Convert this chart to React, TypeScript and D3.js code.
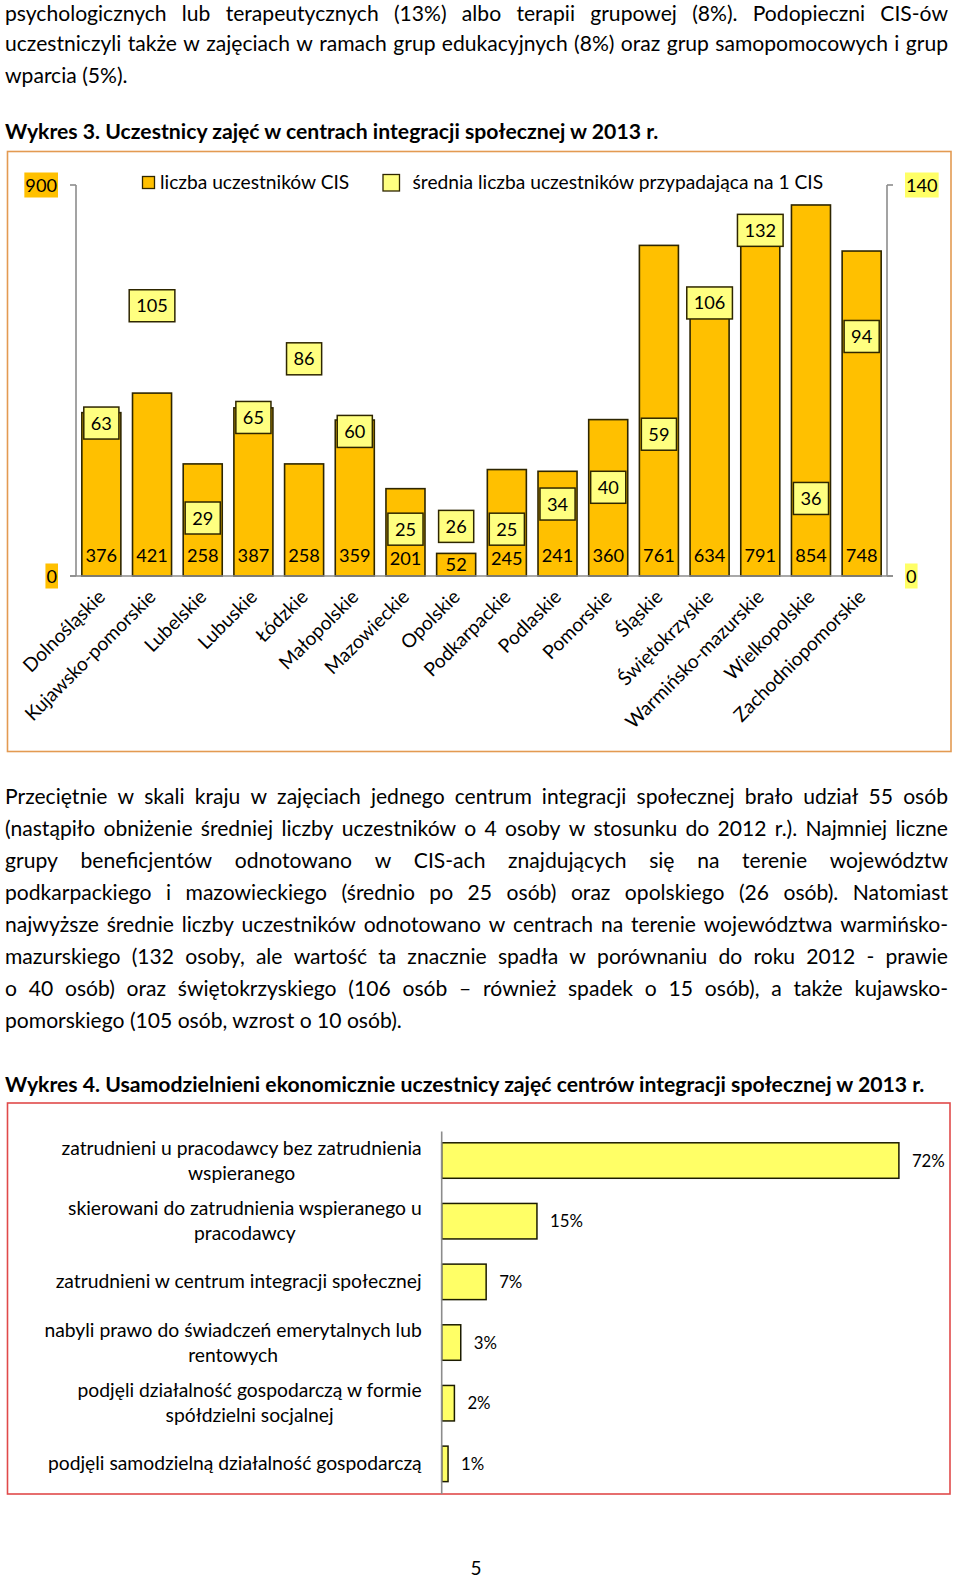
import React, { useEffect, useRef } from 'react';
import * as d3 from 'd3';

// ---------- DATA ----------
const regions = [
  'Dolnośląskie', 'Kujawsko-pomorskie', 'Lubelskie', 'Lubuskie', 'Łódzkie', 'Małopolskie',
  'Mazowieckie', 'Opolskie', 'Podkarpackie', 'Podlaskie', 'Pomorskie', 'Śląskie',
  'Świętokrzyskie', 'Warmińsko-mazurskie', 'Wielkopolskie', 'Zachodniopomorskie',
];
const participants = [376, 421, 258, 387, 258, 359, 201, 52, 245, 241, 360, 761, 634, 791, 854, 748];
const averagePerCis = [63, 105, 29, 65, 86, 60, 25, 26, 25, 34, 40, 59, 106, 132, 36, 94];
const leftAxisTicks = [0, 900];
const rightAxisTicks = [0, 140];
const legendLabels = ['liczba uczestników CIS', 'średnia liczba uczestników przypadająca na 1 CIS'];

const outcomeLabels = [
  ['zatrudnieni u pracodawcy bez zatrudnienia', 'wspieranego'],
  ['skierowani do zatrudnienia wspieranego u', 'pracodawcy'],
  ['zatrudnieni w centrum integracji społecznej'],
  ['nabyli prawo do świadczeń emerytalnych lub', 'rentowych'],
  ['podjęli działalność gospodarczą w formie', 'spółdzielni socjalnej'],
  ['podjęli samodzielną działalność gospodarczą'],
];
const outcomeShares = [72, 15, 7, 3, 2, 1];

const para1 = [
  'psychologicznych lub terapeutycznych (13%) albo terapii grupowej (8%). Podopieczni CIS-ów',
  'uczestniczyli także w zajęciach w ramach grup edukacyjnych (8%) oraz grup samopomocowych i grup',
  'wparcia (5%).',
];
const title3 = 'Wykres 3. Uczestnicy zajęć w centrach integracji społecznej w 2013 r.';
const para2 = [
  'Przeciętnie w skali kraju w zajęciach jednego centrum integracji społecznej brało udział 55 osób',
  '(nastąpiło obniżenie średniej liczby uczestników o 4 osoby w stosunku do 2012 r.). Najmniej liczne',
  'grupy beneficjentów odnotowano w CIS-ach znajdujących się na terenie województw',
  'podkarpackiego i mazowieckiego (średnio po 25 osób) oraz opolskiego (26 osób). Natomiast',
  'najwyższe średnie liczby uczestników odnotowano w centrach na terenie województwa warmińsko-',
  'mazurskiego (132 osoby, ale wartość ta znacznie spadła w porównaniu do roku 2012 - prawie',
  'o 40 osób) oraz świętokrzyskiego (106 osób – również spadek o 15 osób), a także kujawsko-',
  'pomorskiego (105 osób, wzrost o 10 osób).',
];
const title4 = 'Wykres 4. Usamodzielnieni ekonomicznie uczestnicy zajęć centrów integracji społecznej w 2013 r.';
const pageNumber = '5';

// ---------- STYLE ----------
const FONT = "Lato, 'Open Sans', 'DejaVu Sans', sans-serif";
const BODY = 21.1;
const TITLE = 21.2;
const CH3 = 19.2;
const CH3NUM = 18.2;
const CH4 = 19.3;
const CH4NUM = 16.8;
const ORANGE = '#FFC000';
const PALE = '#FFFF80';
const YELLOW = '#FFFF66';
const AXIS = '#8c8c8c';
const DARK = '#2e2600';

type Sel = d3.Selection<any, unknown, null, undefined>;

function measure(svg: Sel, text: string, size: number, weight = 'normal') {
  const t = svg.append('text').attr('font-family', FONT).attr('font-size', size).attr('font-weight', weight).text(text);
  const w = (t.node() as SVGTextElement).getComputedTextLength();
  t.remove();
  return w;
}

function textLine(g: Sel, svg: Sel, text: string, x0: number, x1: number, y: number, justify: boolean, size: number, weight = 'normal') {
  if (!justify) {
    g.append('text').attr('x', x0).attr('y', y).attr('font-family', FONT).attr('font-size', size)
      .attr('font-weight', weight).attr('fill', '#000').text(text);
    return;
  }
  const words = text.split(' ');
  const widths = words.map((w) => measure(svg, w, size, weight));
  const total = d3.sum(widths);
  const gap = (x1 - x0 - total) / (words.length - 1);
  let x = x0;
  words.forEach((w, i) => {
    g.append('text').attr('x', x).attr('y', y).attr('font-family', FONT).attr('font-size', size)
      .attr('font-weight', weight).attr('fill', '#000').text(w);
    x += widths[i] + gap;
  });
}

function draw(svg: Sel) {
  const txt = svg.append('g');
  const L = 5, R = 948;
  para1.forEach((line, i) => textLine(txt, svg, line, L, R, i === 0 ? 21 : 18.5 + i * 32, i < para1.length - 1, BODY));
  textLine(txt, svg, title3, L, R, 139, false, TITLE, 'bold');
  para2.forEach((line, i) => textLine(txt, svg, line, L, R, 803.5 + i * 32.1, i < para2.length - 1, BODY));
  textLine(txt, svg, title4, L, R, 1091.5, false, TITLE, 'bold');
  txt.append('text').attr('x', 476).attr('y', 1575).attr('text-anchor', 'middle').attr('font-family', FONT)
    .attr('font-size', 19).text(pageNumber);

  // ---------- CHART 3 ----------
  const c3 = svg.append('g');
  c3.append('rect').attr('x', 7.5).attr('y', 151.5).attr('width', 943.5).attr('height', 600)
    .attr('fill', '#fff').attr('stroke', '#E39A52').attr('stroke-width', 1.6);

  const x = d3.scaleBand<string>().domain(regions).range([76, 887]).paddingInner(0.23).paddingOuter(0.115);
  const yL = d3.scaleLinear().domain([0, 900]).range([576, 185]);
  const yR = d3.scaleLinear().domain([0, 140]).range([576, 185]);
  const bw = x.bandwidth();

  // legend
  c3.append('rect').attr('x', 142.5).attr('y', 176.5).attr('width', 12).attr('height', 12)
    .attr('fill', ORANGE).attr('stroke', DARK).attr('stroke-width', 1.3);
  c3.append('text').attr('x', 160).attr('y', 189).attr('font-family', FONT).attr('font-size', CH3).text(legendLabels[0]);
  c3.append('rect').attr('x', 383).attr('y', 174.5).attr('width', 16.5).attr('height', 16.5)
    .attr('fill', PALE).attr('stroke', DARK).attr('stroke-width', 1.3);
  c3.append('text').attr('x', 412.5).attr('y', 189).attr('font-family', FONT).attr('font-size', CH3).text(legendLabels[1]);

  // bars
  c3.selectAll('rect.bar').data(participants).enter().append('rect')
    .attr('x', (_, i) => x(regions[i])!)
    .attr('y', (d) => yL(d))
    .attr('width', bw)
    .attr('height', (d) => yL(0) - yL(d))
    .attr('fill', ORANGE).attr('stroke', DARK).attr('stroke-width', 1.6);

  // axes
  const [y0, yTop] = yL.range();
  const xl = x.range()[0], xr = x.range()[1];
  c3.append('line').attr('x1', xl).attr('x2', xl).attr('y1', yTop).attr('y2', y0).attr('stroke', AXIS).attr('stroke-width', 1.6);
  c3.append('line').attr('x1', xr).attr('x2', xr).attr('y1', yTop).attr('y2', y0).attr('stroke', AXIS).attr('stroke-width', 1.6);
  c3.append('line').attr('x1', xl - 6).attr('x2', xr + 6).attr('y1', y0).attr('y2', y0).attr('stroke', AXIS).attr('stroke-width', 1.6);
  leftAxisTicks.forEach((t) => {
    const yy = yL(t);
    c3.append('line').attr('x1', xl - 6).attr('x2', xl).attr('y1', yy).attr('y2', yy).attr('stroke', AXIS).attr('stroke-width', 1.6);
    const s = String(t);
    const w = measure(svg, s, CH3NUM);
    c3.append('rect').attr('x', xl - 19 - w - 1).attr('y', yy - 12.5).attr('width', w + 2).attr('height', 25).attr('fill', ORANGE);
    c3.append('text').attr('x', xl - 19).attr('y', yy + 6.5).attr('text-anchor', 'end').attr('font-family', FONT)
      .attr('font-size', CH3NUM).text(s);
  });
  rightAxisTicks.forEach((t) => {
    const yy = yR(t);
    c3.append('line').attr('x1', xr).attr('x2', xr + 6).attr('y1', yy).attr('y2', yy).attr('stroke', AXIS).attr('stroke-width', 1.6);
    const s = String(t);
    const w = measure(svg, s, CH3NUM);
    c3.append('rect').attr('x', xr + 19 - 1).attr('y', yy - 12.5).attr('width', w + 2).attr('height', 25).attr('fill', YELLOW);
    c3.append('text').attr('x', xr + 19).attr('y', yy + 6.5).attr('font-family', FONT).attr('font-size', CH3NUM).text(s);
  });

  // average labels (boxes, inside end of the invisible secondary series)
  const boxBottoms: number[] = [];
  averagePerCis.forEach((v, i) => {
    const cx = x(regions[i])! + bw / 2;
    const s = String(v);
    const w = measure(svg, s, CH3NUM) + 14;
    const top = yR(v) + 7;
    boxBottoms.push(top + 32);
    c3.append('rect').attr('x', cx - w / 2).attr('y', top).attr('width', w).attr('height', 32)
      .attr('fill', PALE).attr('stroke', DARK).attr('stroke-width', 1.5);
    c3.append('text').attr('x', cx).attr('y', top + 16 + 6.5).attr('text-anchor', 'middle')
      .attr('font-family', FONT).attr('font-size', CH3NUM).text(s);
  });

  // participant labels (inside base)
  participants.forEach((v, i) => {
    const cx = x(regions[i])! + bw / 2;
    const barH = y0 - yL(v);
    let cy = y0 - 21;
    if (barH < 42) cy = (y0 + yL(v)) / 2;
    else if (boxBottoms[i] > cy - 12) cy = Math.min(boxBottoms[i] + 13, y0 - 12);
    c3.append('text').attr('x', cx).attr('y', cy + 6.5).attr('text-anchor', 'middle')
      .attr('font-family', FONT).attr('font-size', CH3NUM).text(String(v));
  });

  // category labels
  regions.forEach((r) => {
    const px = x(r)! + bw / 2 + 5;
    const py = 598;
    c3.append('text').attr('x', px).attr('y', py).attr('text-anchor', 'end')
      .attr('transform', `rotate(-45, ${px}, ${py})`)
      .attr('font-family', FONT).attr('font-size', CH3).text(r);
  });

  // ---------- CHART 4 ----------
  const c4 = svg.append('g');
  c4.append('rect').attr('x', 7.5).attr('y', 1103).attr('width', 942.5).attr('height', 391)
    .attr('fill', '#fff').attr('stroke', '#E04A4A').attr('stroke-width', 1.6);
  const idx = outcomeShares.map((_, i) => String(i));
  const xs = d3.scaleLinear().domain([0, 80]).range([441.7, 949.7]);
  const ys = d3.scaleBand<string>().domain(idx).range([1130.2, 1494.2]).paddingInner(0.415).paddingOuter(0.2075);
  const bh = ys.bandwidth();

  c4.selectAll('rect.hbar').data(outcomeShares).enter().append('rect')
    .attr('x', xs(0)).attr('y', (_, i) => ys(String(i))!)
    .attr('width', (d) => xs(d) - xs(0)).attr('height', bh)
    .attr('fill', YELLOW).attr('stroke', '#1c1c00').attr('stroke-width', 1.5);
  c4.append('line').attr('x1', xs(0)).attr('x2', xs(0)).attr('y1', 1131.5).attr('y2', 1494)
    .attr('stroke', AXIS).attr('stroke-width', 1.6);

  outcomeShares.forEach((v, i) => {
    const cy = ys(String(i))! + bh / 2;
    c4.append('text').attr('x', xs(v) + 13).attr('y', cy + 6).attr('font-family', FONT)
      .attr('font-size', CH4NUM).text(`${v}%`);
    const lines = outcomeLabels[i];
    const maxW = d3.max(lines, (l) => measure(svg, l, CH4))!;
    const cx = xs(0) - 20 - maxW / 2;
    lines.forEach((l, j) => {
      const ly = cy + (j - (lines.length - 1) / 2) * 25 + 6.5;
      c4.append('text').attr('x', cx).attr('y', ly).attr('text-anchor', 'middle')
        .attr('font-family', FONT).attr('font-size', CH4).text(l);
    });
  });
}

export default function App() {
  const ref = useRef<SVGSVGElement>(null);
  useEffect(() => {
    const svg = d3.select(ref.current) as unknown as Sel;
    svg.selectAll('*').remove();
    draw(svg);
  }, []);
  return (
    <svg ref={ref} width={960} height={1578}
      style={{ position: 'absolute', left: 0, top: 0, background: '#fff', display: 'block' }} />
  );
}
